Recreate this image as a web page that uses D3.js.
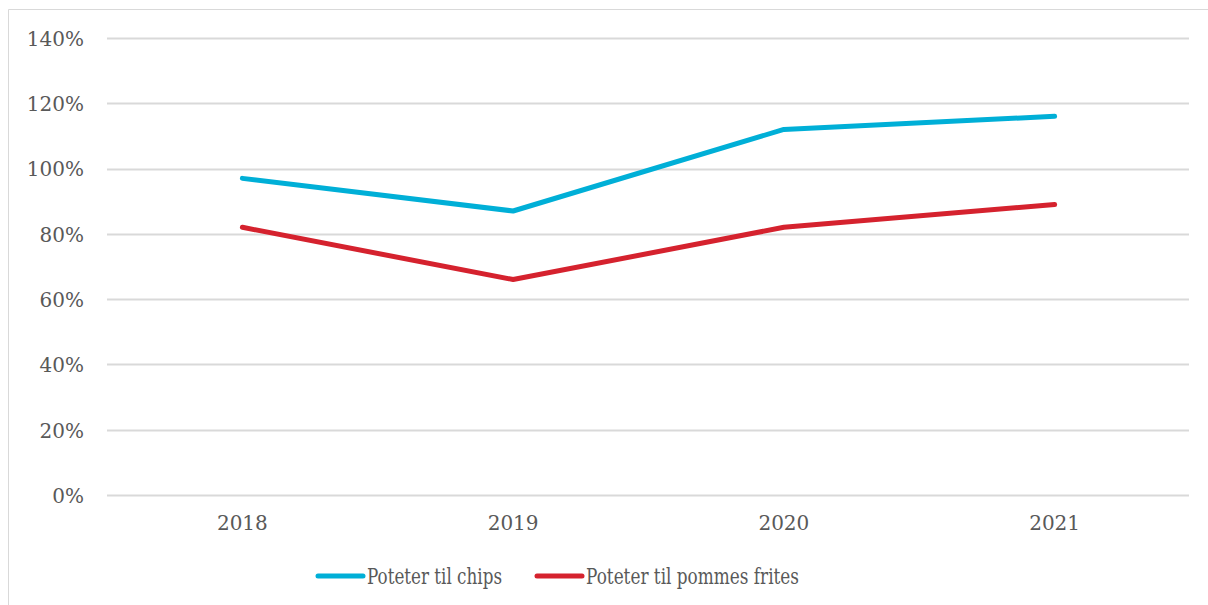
<!DOCTYPE html>
<html>
<head>
<meta charset="utf-8">
<script src="https://cdn.jsdelivr.net/npm/d3@7"></script>
<style>
  html, body { margin: 0; padding: 0; background: #fff; }
  svg { display: block; }
  text { font-family: "DejaVu Serif", "Liberation Serif", serif; fill: #595959; }
</style>
</head>
<body>
<svg id="chart" width="1208" height="605"></svg>
<script>
// Chart data
const years = ["2018", "2019", "2020", "2021"];
const chips = [0.97, 0.87, 1.12, 1.16];
const frites = [0.82, 0.66, 0.82, 0.89];
const yTicks = [0, 0.2, 0.4, 0.6, 0.8, 1.0, 1.2, 1.4];
const seriesNames = ["Poteter til chips", "Poteter til pommes frites"];
const seriesColors = ["#00AFD7", "#D5222E"];

const svg = d3.select("#chart");

// Outer frame (top and left edges)
svg.append("path")
  .attr("d", "M8.5,605 V9.5 H1208")
  .attr("fill", "none")
  .attr("stroke", "#d9d9d9")
  .attr("stroke-width", 1);

const x = d3.scaleBand().domain(years).range([107, 1190]);
const y = d3.scaleLinear().domain([0, 1.4]).range([495, 38]);

// Gridlines
svg.append("g")
  .selectAll("line")
  .data(yTicks)
  .join("line")
  .attr("x1", 107).attr("x2", 1189)
  .attr("y1", d => Math.round(y(d)) + 0.5)
  .attr("y2", d => Math.round(y(d)) + 0.5)
  .attr("stroke", "#d9d9d9")
  .attr("stroke-width", 2);

// Y axis labels
const yAxis = d3.axisLeft(y).tickValues(yTicks).tickSize(0).tickPadding(0)
  .tickFormat(d => Math.round(d * 100) + "%");
const gy = svg.append("g").attr("transform", "translate(84,1)").call(yAxis);
gy.select(".domain").remove();
gy.selectAll("text").attr("font-size", 20).attr("fill", "#595959")
  .style("font-family", "\"DejaVu Serif\", serif");

// X axis labels
const xAxis = d3.axisBottom(x).tickSize(0).tickPadding(0);
const gx = svg.append("g").attr("transform", "translate(0,516)").call(xAxis);
gx.select(".domain").remove();
gx.selectAll("text").attr("font-size", 20).attr("fill", "#595959")
  .style("font-family", "\"DejaVu Serif\", serif");

// Lines
const line = d3.line()
  .x((d, i) => x(years[i]) + x.bandwidth() / 2)
  .y(d => y(d));

[chips, frites].forEach((vals, i) => {
  svg.append("path")
    .datum(vals)
    .attr("d", line)
    .attr("fill", "none")
    .attr("stroke", seriesColors[i])
    .attr("stroke-width", 5)
    .attr("stroke-linejoin", "round")
    .attr("stroke-linecap", "round");
});

// Legend
const legendX = [318, 537];
const legendTextWidth = [135, 213];
seriesNames.forEach((name, i) => {
  const g = svg.append("g").attr("transform", `translate(${legendX[i]},576)`);
  g.append("line")
    .attr("x1", 0).attr("x2", 45)
    .attr("stroke", seriesColors[i])
    .attr("stroke-width", 5)
    .attr("stroke-linecap", "round");
  g.append("text")
    .attr("x", 49).attr("y", 8)
    .attr("font-size", 22)
    .attr("textLength", legendTextWidth[i])
    .attr("lengthAdjust", "spacingAndGlyphs")
    .text(name);
});
</script>
</body>
</html>
